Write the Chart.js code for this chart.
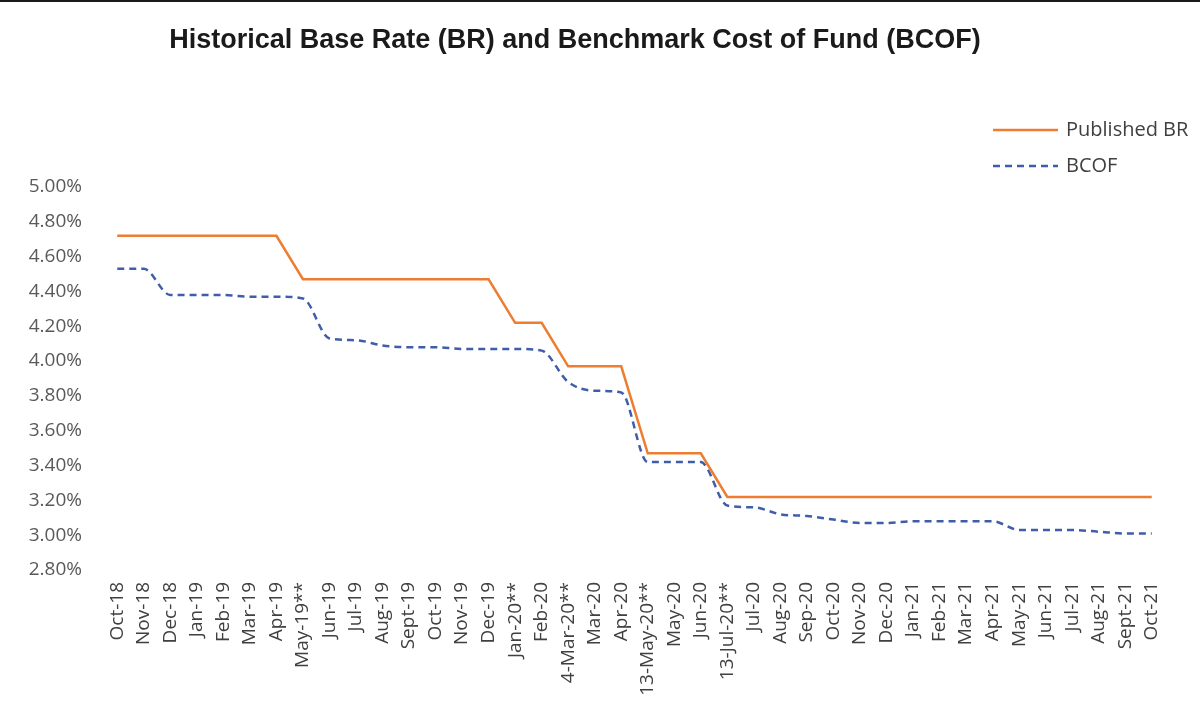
<!DOCTYPE html>
<html>
<head>
<meta charset="utf-8">
<script src="https://cdn.jsdelivr.net/npm/chart.js@4.4.1/dist/chart.umd.min.js"></script>
<style>
  html, body { margin: 0; padding: 0; background: #fff; }
  #wrap { position: relative; width: 1200px; height: 703px; }
  #topline { position: absolute; left: 0; top: 0; width: 1200px; height: 2px; background: #1a1a1a; }
</style>
</head>
<body>
<div id="wrap">
  <canvas id="rateChart" width="1200" height="703"></canvas>
  <div id="topline"></div>
</div>
<script>
const labels = [
  'Oct-18', 'Nov-18', 'Dec-18', 'Jan-19', 'Feb-19', 'Mar-19', 'Apr-19', 'May-19**',
  'Jun-19', 'Jul-19', 'Aug-19', 'Sept-19', 'Oct-19', 'Nov-19', 'Dec-19', 'Jan-20**',
  'Feb-20', '4-Mar-20**', 'Mar-20', 'Apr-20', '13-May-20**', 'May-20', 'Jun-20', '13-Jul-20**',
  'Jul-20', 'Aug-20', 'Sep-20', 'Oct-20', 'Nov-20', 'Dec-20', 'Jan-21', 'Feb-21',
  'Mar-21', 'Apr-21', 'May-21', 'Jun-21', 'Jul-21', 'Aug-21', 'Sept-21', 'Oct-21'
];

const publishedBR = [
  4.72, 4.72, 4.72, 4.72, 4.72, 4.72, 4.72, 4.47,
  4.47, 4.47, 4.47, 4.47, 4.47, 4.47, 4.47, 4.22,
  4.22, 3.97, 3.97, 3.97, 3.47, 3.47, 3.47, 3.22,
  3.22, 3.22, 3.22, 3.22, 3.22, 3.22, 3.22, 3.22,
  3.22, 3.22, 3.22, 3.22, 3.22, 3.22, 3.22, 3.22
];

const bcof = [
  4.53, 4.53, 4.38, 4.38, 4.38, 4.37, 4.37, 4.36,
  4.13, 4.12, 4.09, 4.08, 4.08, 4.07, 4.07, 4.07,
  4.06, 3.88, 3.83, 3.82, 3.42, 3.42, 3.42, 3.17,
  3.16, 3.12, 3.11, 3.09, 3.07, 3.07, 3.08, 3.08,
  3.08, 3.08, 3.03, 3.03, 3.03, 3.02, 3.01, 3.01
];

const yMin = 2.8;
const yMax = 5.0;
const yStep = 0.2;

const chartTitle = 'Historical Base Rate (BR) and Benchmark Cost of Fund (BCOF)';

const brColor = '#ED7D31';
const bcofColor = '#3F5DAA';

// title sits a bit left of centre and the legend floats over the plot, like the original
const headerAndLegend = {
    id: 'headerAndLegend',
    afterDraw(chart) {
        const ctx = chart.ctx;
        ctx.save();
        ctx.font = 'bold 27px "Liberation Sans", Arial, sans-serif';
        ctx.fillStyle = '#1a1a1a';
        ctx.textAlign = 'center';
        ctx.textBaseline = 'middle';
        ctx.fillText(chartTitle, 575, 41);

        const rows = [
            { ds: chart.data.datasets[0], y: 130 },
            { ds: chart.data.datasets[1], y: 166 }
        ];
        ctx.font = '20px "Open Sans", sans-serif';
        ctx.textAlign = 'left';
        rows.forEach(r => {
            ctx.strokeStyle = r.ds.borderColor;
            ctx.lineWidth = r.ds.borderWidth;
            ctx.setLineDash(r.ds.borderDash || []);
            ctx.beginPath();
            ctx.moveTo(993, r.y);
            ctx.lineTo(1058, r.y);
            ctx.stroke();
            ctx.setLineDash([]);
            ctx.fillStyle = '#404040';
            ctx.fillText(r.ds.label, 1066, r.y);
        });
        ctx.restore();
    }
};

const ctx = document.getElementById('rateChart').getContext('2d');

window.rateChart = new Chart(ctx, {
    type: 'line',
    data: {
        labels: labels,
        datasets: [{
            label: 'Published BR',
            data: publishedBR,
            borderColor: brColor,
            backgroundColor: brColor,
            borderWidth: 2.5,
            pointRadius: 0,
            tension: 0,
            fill: false
        }, {
            label: 'BCOF',
            data: bcof,
            borderColor: bcofColor,
            backgroundColor: bcofColor,
            borderWidth: 2.5,
            borderDash: [7, 5],
            pointRadius: 0,
            cubicInterpolationMode: 'monotone',
            fill: false
        }]
    },
    options: {
        responsive: false,
        animation: false,
        layout: {
            padding: { left: 0, right: 35, top: 187, bottom: 0 }
        },
        plugins: {
            legend: { display: false },
            tooltip: { enabled: false },
            title: { display: false }
        },
        scales: {
            x: {
                offset: true,
                grid: { display: false, drawTicks: false },
                border: { display: false },
                afterFit: scale => { scale.height = 133; },
                ticks: {
                    autoSkip: false,
                    maxRotation: 90,
                    minRotation: 90,
                    padding: 12,
                    color: '#404040',
                    font: { family: '"Open Sans", sans-serif', size: 19 }
                }
            },
            y: {
                min: yMin,
                max: yMax,
                grid: { display: false, drawTicks: false },
                border: { display: false },
                afterFit: scale => { scale.width = 104; },
                ticks: {
                    stepSize: yStep,
                    padding: 22,
                    color: '#595959',
                    font: { family: '"Open Sans", sans-serif', size: 19 },
                    callback: v => v.toFixed(2) + '%'
                }
            }
        }
    },
    plugins: [headerAndLegend]
});
</script>
</body>
</html>
